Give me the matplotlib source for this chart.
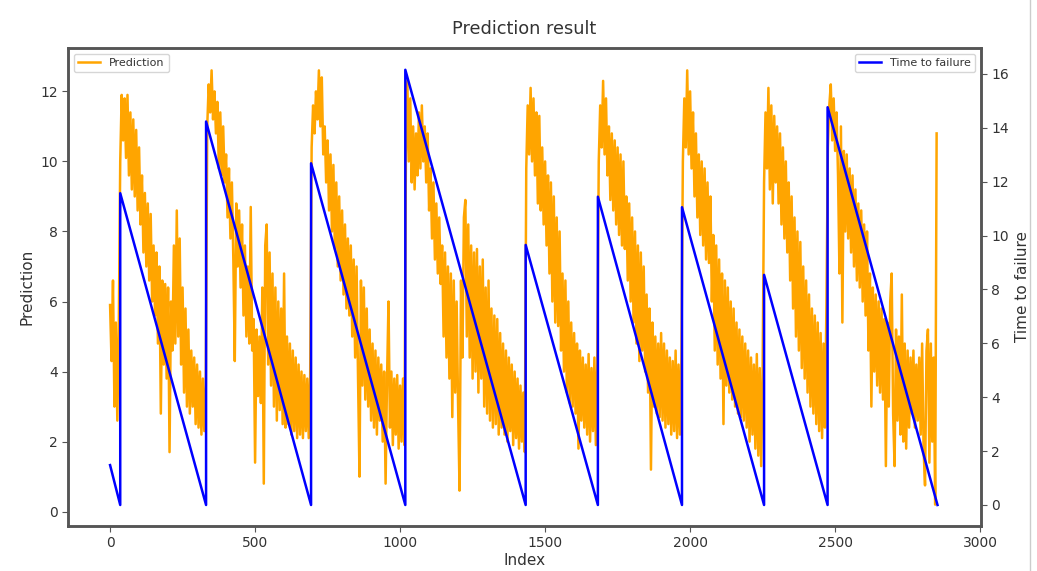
import numpy as np
from matplotlib import pyplot as plt
from matplotlib.lines import Line2D

# prediction, read every 5 index steps (0 .. 2850)
step = 5
seg0 = [5.9, 4.3, 6.6, 3.0, 5.4, 2.6, 5.2]
seg1 = [10.0, 11.9, 10.6, 11.8, 10.1, 11.9, 9.6, 11.4,
        9.2, 11.2, 9.0, 10.9, 8.6, 10.4, 8.2, 9.6,
        7.4, 9.1, 7.0, 8.8, 6.6, 8.5, 6.0, 7.6,
        5.6, 7.4, 4.8, 7.0, 2.8, 6.6, 4.2, 6.5,
        3.8, 6.4, 1.7, 6.0, 4.6, 7.6, 4.8, 8.6,
        5.0, 7.8, 4.2, 6.4, 3.4, 5.8, 3.0, 5.2,
        2.8, 4.6, 3.0, 4.4, 2.5, 4.2, 2.4, 4.0,
        2.2, 3.8, 2.3, 3.6]
seg2 = [11.0, 12.2, 11.4, 12.6, 11.2, 12.0, 10.8, 11.7,
        9.8, 11.4, 9.6, 11.0, 9.4, 10.2, 8.4, 9.8,
        7.8, 9.4, 7.2, 4.3, 8.8, 7.0, 8.6, 6.4,
        8.2, 5.6, 7.6, 5.0, 7.0, 4.8, 8.7, 4.6,
        5.5, 1.4, 5.2, 3.3, 5.0, 3.1, 6.4, 0.8,
        7.6, 8.2, 4.2, 7.4, 3.6, 6.8, 3.0, 6.4,
        2.6, 6.0, 2.9, 5.8, 2.5, 6.8, 2.4, 5.0,
        2.5, 4.8, 2.2, 4.6, 2.3, 4.4, 2.1, 4.2,
        2.2, 4.0, 2.1, 3.9, 2.3, 3.8, 2.1, 3.9]
seg3 = [10.4, 11.6, 10.8, 12.0, 11.2, 12.6, 11.0, 12.4,
        10.2, 11.0, 9.4, 10.6, 8.6, 10.2, 8.0, 9.9,
        7.5, 9.4, 7.0, 9.0, 6.6, 8.6, 6.2, 8.2,
        5.8, 7.8, 5.6, 7.6, 5.0, 7.2, 4.4, 7.0,
        3.8, 1.0, 6.6, 3.6, 6.4, 3.2, 5.8, 3.0,
        5.2, 2.6, 4.8, 2.4, 4.6, 2.2, 4.4, 2.6,
        4.2, 2.0, 4.0, 0.8, 3.8, 6.0, 2.4, 4.0,
        1.9, 3.8, 2.2, 3.9, 1.8, 3.6, 2.0, 3.8,
        1.9]
seg4 = [10.2, 12.3, 10.0, 11.8, 9.4, 11.0, 9.2, 10.8,
        9.6, 11.4, 9.8, 11.6, 10.0, 11.0, 9.4, 10.8,
        8.6, 9.8, 7.8, 9.4, 7.2, 8.8, 6.8, 8.4,
        6.5, 7.6, 5.0, 7.4, 4.4, 7.0, 3.8, 6.8,
        2.7, 6.6, 3.4, 6.0, 3.0, 0.6, 6.6, 4.4,
        8.4, 8.9, 5.0, 8.2, 4.4, 7.6, 3.8, 7.4,
        4.0, 7.5, 3.4, 7.0, 3.8, 7.2, 3.0, 6.4,
        2.8, 6.6, 2.6, 5.8, 2.4, 5.6, 2.5, 5.5,
        2.2, 5.1, 2.4, 4.8, 2.2, 4.6, 2.0, 4.4,
        2.3, 4.2, 1.9, 4.0, 2.1, 3.8, 1.8, 3.6,
        2.0, 3.4, 1.7]
seg5 = [9.8, 11.6, 10.2, 12.1, 10.0, 11.8, 9.6, 11.4,
        8.8, 11.3, 8.6, 10.4, 8.2, 10.0, 7.6, 9.6,
        6.8, 9.4, 6.0, 9.0, 5.4, 8.4, 5.3, 8.0,
        4.6, 6.8, 4.0, 6.6, 3.4, 6.0, 3.1, 5.4,
        3.0, 5.1, 2.8, 4.8, 1.8, 4.6, 2.6, 4.4,
        2.4, 4.2, 2.2, 4.5, 2.0, 4.1, 2.3, 4.4,
        1.9, 4.2]
seg6 = [10.0, 11.6, 10.4, 12.3, 10.2, 11.8, 9.6, 11.0,
        8.9, 10.8, 8.6, 10.6, 8.2, 10.4, 7.9, 10.2,
        7.6, 10.0, 7.5, 9.0, 6.6, 8.8, 6.0, 8.4,
        5.4, 8.0, 4.8, 7.6, 4.3, 7.4, 4.6, 7.0,
        4.0, 6.2, 3.4, 5.8, 1.2, 5.4, 3.0, 5.0,
        2.8, 4.8, 2.7, 5.1, 2.6, 4.8, 2.4, 4.6,
        2.5, 4.4, 2.2, 4.3, 2.3, 4.6, 2.1, 4.2,
        2.2, 4.4]
seg7 = [10.0, 11.8, 10.4, 12.6, 10.2, 12.0, 9.8, 11.4,
        9.0, 10.8, 8.4, 10.2, 7.9, 10.0, 7.6, 9.8,
        7.2, 9.4, 7.1, 9.0, 6.0, 7.9, 4.6, 7.6,
        4.2, 7.2, 3.8, 6.8, 2.5, 6.6, 3.6, 6.4,
        3.4, 6.0, 3.2, 5.8, 3.0, 5.4, 2.8, 5.2,
        2.7, 5.0, 2.6, 4.8, 2.4, 4.6, 2.0, 4.4,
        2.2, 4.2, 1.8, 4.5, 1.6, 4.1, 1.3, 4.0]
seg8 = [9.4, 11.4, 9.8, 12.1, 9.2, 11.6, 8.8, 11.3,
        9.4, 11.0, 8.8, 10.8, 8.2, 10.4, 7.8, 10.0,
        7.4, 9.4, 6.6, 9.0, 5.8, 8.4, 5.0, 8.0,
        4.6, 7.7, 4.1, 7.0, 3.8, 6.6, 3.4, 6.2,
        3.0, 5.8, 2.8, 5.6, 2.5, 5.4, 2.3, 5.1,
        2.1, 4.8, 2.4, 5.9]
seg9 = [10.4, 11.6, 12.2, 10.6, 11.8, 10.3, 11.4, 9.6,
        6.8, 11.0, 5.4, 10.3, 8.0, 10.2, 7.8, 9.8,
        7.4, 9.6, 7.0, 9.2, 6.6, 8.8, 6.4, 8.6,
        6.0, 8.2, 5.6, 8.0, 4.6, 6.8, 3.0, 6.4,
        4.0, 6.2, 3.6, 6.0, 3.4, 5.8, 3.2, 5.5,
        1.3, 5.4, 3.0, 6.0, 6.8, 2.8, 1.3, 5.2,
        2.6, 5.0, 2.2, 6.2, 2.0, 4.8, 1.8, 4.6,
        2.4, 4.4, 2.8, 4.6, 2.4, 4.2, 2.6, 4.4,
        2.2, 4.8, 1.8, 0.75, 4.6, 5.2, 1.4, 4.8,
        2.0, 4.4, 0.2, 10.8]
prediction = seg0 + seg1 + seg2 + seg3 + seg4 + seg5 + seg6 + seg7 + seg8 + seg9

# time to failure, corner points of the sawtooth
ttf_idx = [0, 35, 35, 331, 331, 693, 693, 1018, 1018, 1433, 1433, 1682, 1682,
           1972, 1972, 2255, 2255, 2474, 2474, 2853]
ttf_val = [1.48, 0.0, 11.57, 0.0, 14.23, 0.0, 12.68, 0.0, 16.15, 0.0, 9.65, 0.0,
           11.44, 0.0, 11.05, 0.0, 8.54, 0.0, 14.76, 0.0]

txt = '#333333'
spine = '#555555'

fig = plt.figure(figsize=(10.37, 5.71), dpi=100)
ax = fig.add_axes([0.0656, 0.0788, 0.8804, 0.8372])
ax2 = ax.twinx()

idx = np.arange(len(prediction)) * step
ax.plot(idx, prediction, color='orange', lw=1.8, label='Prediction')
ax2.plot(ttf_idx, ttf_val, color='blue', lw=1.8, label='Time to failure')

ax.set_xlim(-145, 3003)
ax.set_ylim(-0.41, 13.24)
ax2.set_ylim(-0.78, 16.96)
ax.set_xticks([0, 500, 1000, 1500, 2000, 2500, 3000])
ax.set_yticks([0, 2, 4, 6, 8, 10, 12])
ax2.set_yticks([0, 2, 4, 6, 8, 10, 12, 14, 16])

for a in (ax, ax2):
    for s in a.spines.values():
        s.set_color(spine)
        s.set_linewidth(1.8)
    a.tick_params(colors=spine, labelcolor=txt, labelsize=10, length=4)

ax.set_xlabel('Index', fontsize=11, color=txt, labelpad=2)
ax.set_ylabel('Prediction', fontsize=11, color=txt)
ax2.set_ylabel('Time to failure', fontsize=11, color=txt)
ax.set_title('Prediction result', fontsize=12.8, color=txt, pad=10)

ax.legend(loc='upper left', fontsize=8, labelcolor=txt)
ax2.legend(loc='upper right', fontsize=8, labelcolor=txt)

# thin grey edge at the right of the screenshot
fig.add_artist(Line2D([0.9935, 0.9935], [0, 1], color='#cccccc', lw=1))

plt.savefig('out.png', dpi=100)
